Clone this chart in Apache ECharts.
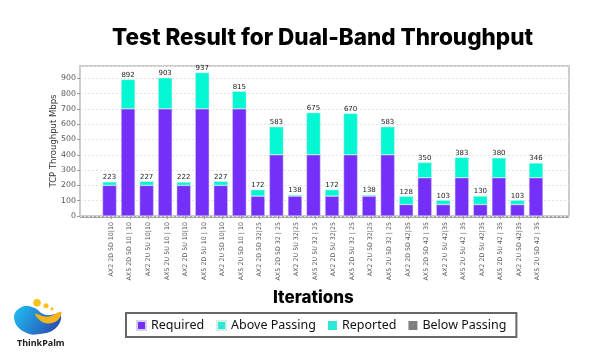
<!DOCTYPE html>
<html>
<head>
<meta charset="utf-8">
<script src="https://cdn.jsdelivr.net/npm/echarts@6/dist/echarts.min.js"></script>
<style>html,body{margin:0;padding:0;background:#fff;}#c{width:600px;height:362px;}</style>
</head>
<body>
<div id="c"></div>
<script>
const categories = [
  'AX2 2D 5D 10|10','AX5 2D 5D 10 | 10','AX2 2U 5U 10|10','AX5 2U 5U 10 | 10',
  'AX2 2D 5U 10|10','AX5 2D 5U 10 | 10','AX2 2U 5D 10|10','AX5 2U 5D 10 | 10',
  'AX2 2D 5D 32|25','AX5 2D 5D 32 | 25','AX2 2U 5U 32|25','AX5 2U 5U 32 | 25',
  'AX2 2D 5U 32|25','AX5 2D 5U 32 | 25','AX2 2U 5D 32|25','AX5 2U 5D 32 | 25',
  'AX2 2D 5D 42|35','AX5 2D 5D 42 | 35','AX2 2U 5U 42|35','AX5 2U 5U 42 | 35',
  'AX2 2D 5U 42|35','AX5 2D 5U 42 | 35','AX2 2U 5D 42|35','AX5 2U 5D 42 | 35'
];
const reported = [223,892,227,903,222,937,227,815,172,583,138,675,172,670,138,583,128,350,103,383,130,380,103,346];
const required = [200,700,200,700,200,700,200,700,130,400,130,400,130,400,130,400,75,250,75,250,75,250,75,250];
const abovePassing = reported.map((v, i) => v - required[i]);
const yTicks = [0,100,200,300,400,500,600,700,800,900];

const chart = echarts.init(document.getElementById('c'), null, {renderer: 'canvas'});
const font = 'DejaVu Sans';
const option = {
  backgroundColor: '#fff',
  animation: false,
  title: {
    text: 'Test Result for Dual-Band Throughput',
    left: 107, top: 22,
    textStyle: {fontFamily: 'Inter', fontWeight: 800, fontSize: 22.5, color: '#000'}
  },
  legend: {
    left: 126, top: 313,
    data: [
      {name: 'Required'},
      {name: 'Above Passing', itemStyle: {color: '#2ee8d3'}},
      {name: 'Reported', itemStyle: {color: '#2de8d6'}},
      {name: 'Below Passing'}
    ],
    itemWidth: 9, itemHeight: 9, itemGap: 12,
    icon: 'rect',
    borderColor: '#666', borderWidth: 2, borderRadius: 0,
    padding: [6, 10, 5, 10],
    textStyle: {fontFamily: 'Noto Sans', fontSize: 12.5, color: '#111'}
  },
  grid: [
    {left: 80, right: 31, top: 66, bottom: 146, show: true, borderColor: '#cccccc', borderWidth: 2},
    {left: 102, right: 53, top: 66, bottom: 146}
  ],
  xAxis: [
    {gridIndex: 0, type: 'value', min: 0, max: 1, show: false},
    {gridIndex: 1, type: 'category', data: categories,
     axisLine: {show: false},
     axisTick: {show: true, alignWithLabel: true, length: 3, lineStyle: {color: '#999'}},
     axisLabel: {rotate: 90, fontFamily: font, fontSize: 6.3, color: '#555', margin: 6, interval: 0}
    }
  ],
  yAxis: [
    {gridIndex: 0, type: 'value', min: 0, max: 980, interval: 100,
     name: 'TCP Throughput Mbps', nameLocation: 'middle', nameGap: 22, nameRotate: 90,
     nameMoveOverlap: false,
     nameTextStyle: {fontFamily: font, fontSize: 8.5, color: '#333'},
     axisLine: {show: true, lineStyle: {color: '#cccccc', width: 2}},
     axisTick: {show: true, length: 3, lineStyle: {color: '#999'}},
     axisLabel: {fontFamily: font, fontSize: 7.8, color: '#555', margin: 4, showMaxLabel: false,
       formatter: v => yTicks.includes(v) ? String(v) : ''},
     splitLine: {show: true, lineStyle: {color: '#e4e4e4', type: [2, 2], width: 1}}
    },
    {gridIndex: 1, type: 'value', min: 0, max: 980, show: false, splitLine: {show: false}}
  ],
  series: [
    {name: '__frame', type: 'scatter', xAxisIndex: 0, yAxisIndex: 0, data: [], silent: true},
    {name: 'Required', type: 'bar', stack: 't', xAxisIndex: 1, yAxisIndex: 1, data: required,
     barWidth: 14, itemStyle: {color: '#7430f8', borderColor: '#d8d0f0', borderWidth: 0.5}},
    {name: 'Above Passing', type: 'bar', stack: 't', xAxisIndex: 1, yAxisIndex: 1, data: abovePassing,
     barWidth: 14, itemStyle: {color: '#02f7d2', borderColor: '#d0f0ea', borderWidth: 0.5},
     label: {show: true, position: 'top', distance: 1, fontFamily: font, fontSize: 7, color: '#222',
       formatter: p => String(reported[p.dataIndex])}},
    {name: 'Reported', type: 'bar', stack: 'r', xAxisIndex: 1, yAxisIndex: 1, data: [], itemStyle: {color: '#2de8d6'}},
    {name: 'Below Passing', type: 'bar', stack: 'b', xAxisIndex: 1, yAxisIndex: 1, data: [], itemStyle: {color: '#808080'}}
  ],
  graphic: [
    {type: 'line', shape: {x1: 80, y1: 217, x2: 569, y2: 217}, style: {stroke: '#a8a8a8', lineWidth: 2}},
    {type: 'text', left: 273, top: 289, style: {text: 'Iterations', font: '800 17px Inter', fill: '#000'}},
    {type: 'group', left: 14, top: 299, children: [
      {type: 'polygon', shape: {smooth: 0.45, points: [[2,20],[10,9],[22,10],[33,17],[48,17],[45,29],[30,36],[12,34]]},
       style: {fill: {type: 'linear', x: 0, y: 0, x2: 1, y2: 1, colorStops: [{offset: 0, color: '#1fc3f5'}, {offset: 1, color: '#2a3fa8'}]}}},
      {type: 'polygon', shape: {smooth: 0.4, points: [[23,16],[35,19],[49,14],[45,23],[32,25]]},
       style: {fill: '#f6b21c'}},
      {type: 'circle', shape: {cx: 25, cy: 5, r: 3.8}, style: {fill: '#fbc21b'}},
      {type: 'circle', shape: {cx: 34, cy: 8, r: 2.5}, style: {fill: '#fbc21b'}},
      {type: 'circle', shape: {cx: 40, cy: 11, r: 1.6}, style: {fill: '#fbc21b'}}
    ]},
    {type: 'text', left: 17, top: 339, style: {text: 'ThinkPalm', font: 'bold 9px "Noto Sans"', fill: '#222'}}
  ]
};
chart.setOption(option);
</script>
</body>
</html>
